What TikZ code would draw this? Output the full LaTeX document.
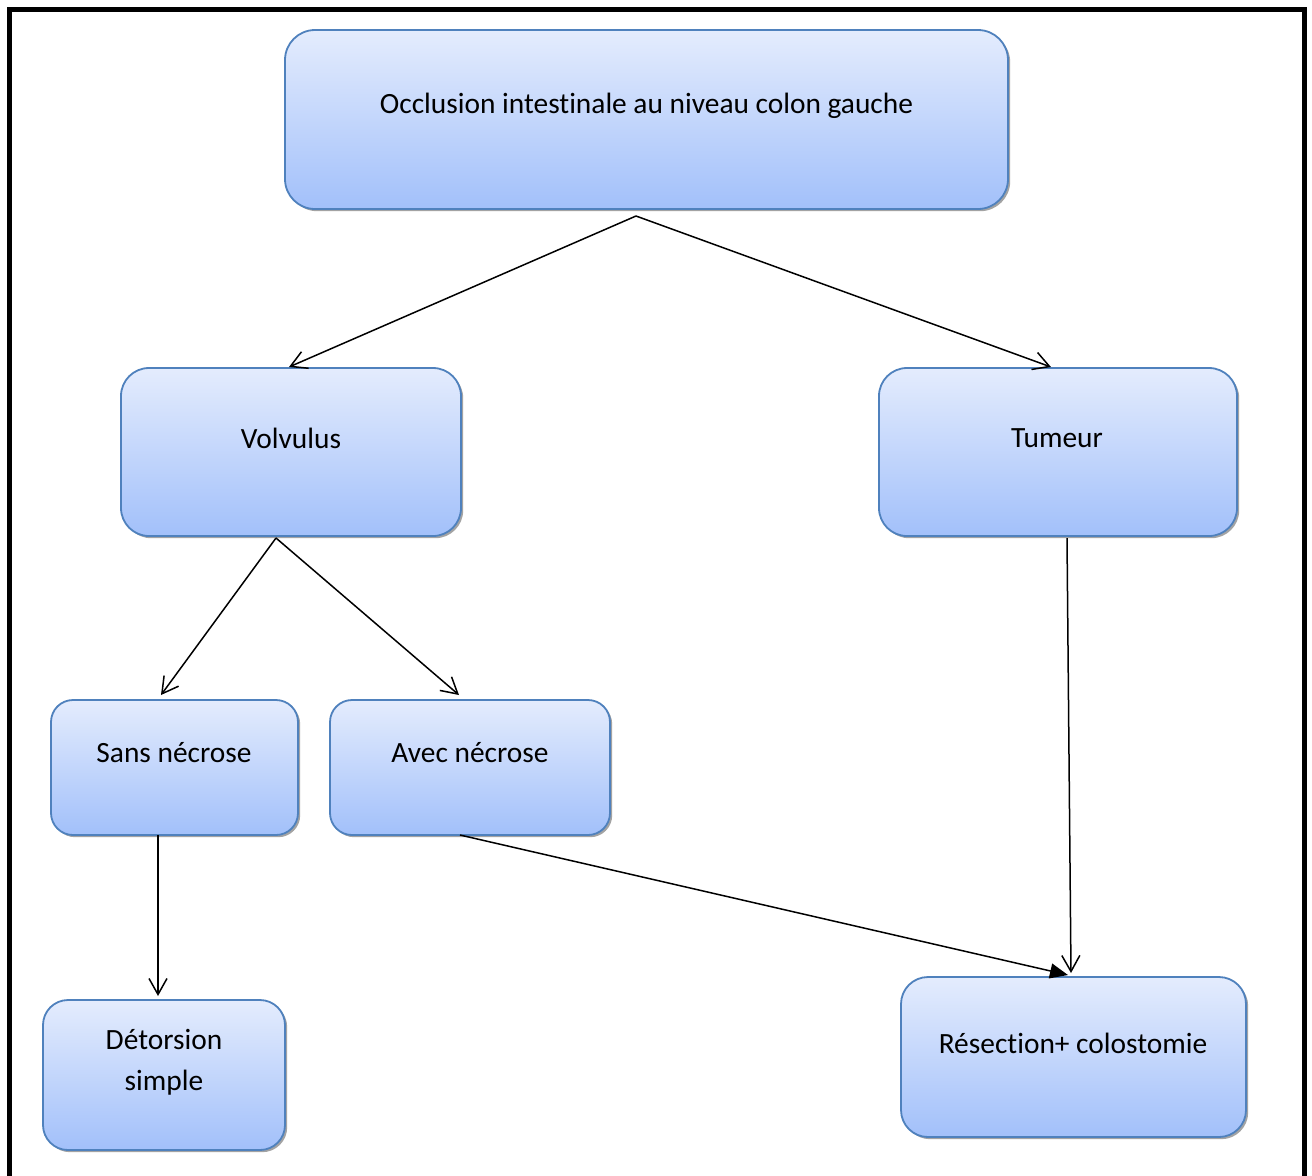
\documentclass[tikz,border=0pt]{standalone}
\usepackage{fontspec}
\setmainfont{Carlito}[Ligatures=NoCommon]
\usetikzlibrary{arrows.meta,shadows}
\definecolor{boxtop}{RGB}{228,236,253}
\definecolor{boxbot}{RGB}{162,192,250}
\definecolor{boxline}{RGB}{79,129,189}
\definecolor{shadowgray}{RGB}{140,140,140}
\tikzset{
  box/.style={draw=boxline, line width=0.9pt, top color=boxtop, bottom color=boxbot,
    inner sep=0pt, drop shadow={shadow xshift=1.1pt, shadow yshift=-1.1pt, fill=shadowgray, opacity=0.8}},
  lbl/.style={font=\fontsize{14.7}{20.5}\selectfont, align=center, inner sep=0pt},
  openarr/.style={line width=0.75pt, -{Straight Barb[length=8pt,width=9pt,line width=0.75pt]}},
  fillarr/.style={line width=0.75pt, -{Triangle[length=9pt,width=7.5pt]}},
}
\begin{document}
\begin{tikzpicture}[x=0.5pt,y=-0.5pt]
\useasboundingbox (0,0) rectangle (1312,1175);
\fill[white] (0,0) rectangle (1312,1175);
% frame
\draw[line width=2.5pt] (9.5,1180) -- (9.5,9.5) -- (1304.5,9.5) -- (1304.5,1180);
% boxes
\node[box, rounded corners=15pt, minimum width=361.5pt, minimum height=89.5pt] (top) at (646.5,119.5) {};
\node[box, rounded corners=14pt, minimum width=170pt, minimum height=84pt] (volv) at (291,452) {};
\node[box, rounded corners=14pt, minimum width=179pt, minimum height=84pt] (tum) at (1058,452) {};
\node[box, rounded corners=11pt, minimum width=123.5pt, minimum height=67.5pt] (sans) at (174.5,767.5) {};
\node[box, rounded corners=11pt, minimum width=140pt, minimum height=67.5pt] (avec) at (470,767.5) {};
\node[box, rounded corners=12.5pt, minimum width=121pt, minimum height=75pt] (det) at (164,1075) {};
\node[box, rounded corners=13.5pt, minimum width=172.5pt, minimum height=80pt] (res) at (1073.5,1057) {};
% labels
\node[lbl] (topt) at (646.5,106) {Occlusion intestinale au niveau colon gauche};
\node[lbl] (volvt) at (291,438) {Volvulus};
\node[lbl] (tumt) at (1057,438) {Tumeur};
\node[lbl] (sanst) at (174,753) {Sans nécrose};
\node[lbl] (avect) at (470,753) {Avec nécrose};
\node[lbl] (dett) at (164,1062) {Détorsion\\simple};
\node[lbl] (rest) at (1073,1043) {Résection+ colostomie};
% connector end points
\coordinate (topout) at (636,216);
\coordinate (volvin) at (289,367);
\coordinate (tumin) at (1051,367);
\coordinate (volvout) at (276,538);
\coordinate (sansin) at (161,695);
\coordinate (avecin) at (459,695);
\coordinate (sansout) at (158,835);
\coordinate (detin) at (158,996);
\coordinate (tumout) at (1067,538);
\coordinate (resin) at (1071,973);
\coordinate (avecout) at (460,835);
\coordinate (resin2) at (1068,975);
% connectors
\draw[openarr] (topout) -- (volvin);
\draw[openarr] (topout) -- (tumin);
\draw[openarr] (volvout) -- (sansin);
\draw[openarr] (volvout) -- (avecin);
\draw[openarr] (sansout) -- (detin);
\draw[openarr] (tumout) -- (resin);
\draw[fillarr] (avecout) -- (resin2);
\end{tikzpicture}
\end{document}
